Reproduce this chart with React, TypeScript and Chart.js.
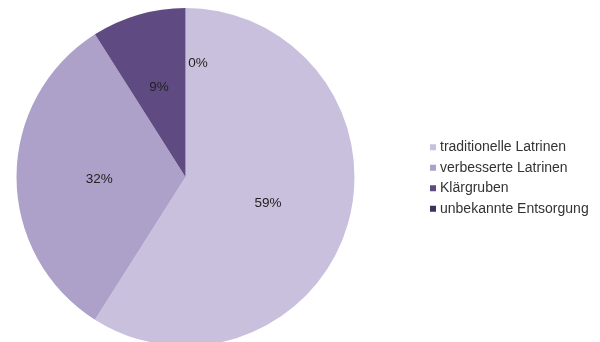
import React, { useEffect, useRef } from "react";
import { Chart, registerables } from "chart.js";

Chart.register(...registerables);

const categories = [
  "traditionelle Latrinen",
  "verbesserte Latrinen",
  "Klärgruben",
  "unbekannte Entsorgung",
];
const values = [59, 32, 9, 0];
const percentLabels = ["59%", "32%", "9%", "0%"];
const colors = ["#c9c0dd", "#ada0c9", "#5f4b82", "#3f3060"];

const labelRadiusFactor = [0.51, 0.51, 0.56, 0.68];
const labelAngleShift = [0.01, -0.02, 0, 0.11];

const labelsPlugin = {
  id: "pctLabels",
  afterDatasetsDraw(chart: any) {
    const ctx = chart.ctx;
    const meta = chart.getDatasetMeta(0);
    ctx.save();
    ctx.font = "13.5px 'Liberation Sans', Arial, sans-serif";
    ctx.fillStyle = "#222222";
    ctx.textAlign = "center";
    ctx.textBaseline = "middle";
    meta.data.forEach((arc: any, i: number) => {
      const { x, y, startAngle, endAngle, outerRadius } = arc.getProps(
        ["x", "y", "startAngle", "endAngle", "outerRadius"],
        true
      );
      const mid = (startAngle + endAngle) / 2 + labelAngleShift[i];
      const r = outerRadius * labelRadiusFactor[i];
      ctx.fillText(percentLabels[i], x + Math.cos(mid) * r, y + Math.sin(mid) * r + 1);
    });
    ctx.restore();
  },
};

const legendPlugin = {
  id: "sideLegend",
  afterDraw(chart: any) {
    const ctx = chart.ctx;
    const left = 430;
    const rowGap = 20.5;
    const centerY = 178;
    const top = centerY - ((categories.length - 1) * rowGap) / 2;
    ctx.save();
    ctx.font = "14px 'Liberation Sans', Arial, sans-serif";
    ctx.textAlign = "left";
    ctx.textBaseline = "middle";
    categories.forEach((c, i) => {
      const y = top + i * rowGap;
      ctx.fillStyle = colors[i];
      ctx.fillRect(left, y - 3, 6, 6);
      ctx.fillStyle = "#333333";
      ctx.fillText(c, left + 10, y);
    });
    ctx.restore();
  },
};

export default function App() {
  const ref = useRef<HTMLCanvasElement | null>(null);
  useEffect(() => {
    if (!ref.current) return;
    const chart = new Chart(ref.current, {
      type: "pie",
      data: {
        labels: categories,
        datasets: [
          {
            data: values,
            backgroundColor: colors,
            borderWidth: 0,
            hoverOffset: 0,
          },
        ],
      },
      options: {
        animation: false,
        responsive: false,
        events: [],
        radius: 169,
        layout: { padding: { left: 16.5, right: 245.5, top: 8, bottom: 8 } },
        plugins: {
          legend: { display: false },
          tooltip: { enabled: false },
        },
      } as any,
      plugins: [labelsPlugin, legendPlugin],
    });
    return () => chart.destroy();
  }, []);
  return (
    <div
      style={{
        position: "absolute",
        left: 0,
        top: 0,
        width: 600,
        height: 342,
        overflow: "hidden",
        background: "#ffffff",
      }}
    >
      <canvas ref={ref} width={600} height={354} style={{ display: "block" }} />
    </div>
  );
}
